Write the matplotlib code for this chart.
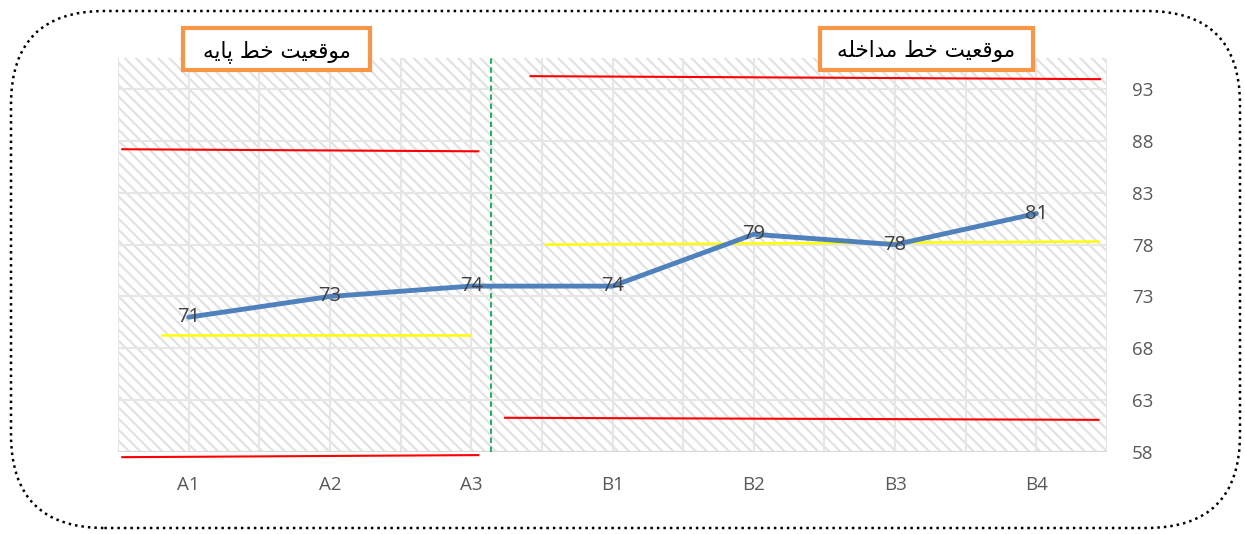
import matplotlib
matplotlib.use("Agg")
import matplotlib.pyplot as plt
from matplotlib.patches import Rectangle, FancyBboxPatch
import numpy as np

# ---------------- data ----------------
categories = ["A1", "A2", "A3", "B1", "B2", "B3", "B4"]
values = [71, 73, 74, 74, 79, 78, 81]
yticks = [58, 63, 68, 73, 78, 83, 88, 93]
title_left = "موقعيت خط پايه"
title_right = "موقعيت خط مداخله"
# reference lines (x in category units, y in value units)
red_left_upper_x = [-0.47, 2.05]
red_left_upper_y = [87.2, 87.0]
red_left_lower_x = [-0.47, 2.05]
red_left_lower_y = [57.5, 57.7]
red_right_upper_x = [2.42, 6.45]
red_right_upper_y = [94.25, 93.96]
red_right_lower_x = [2.24, 6.44]
red_right_lower_y = [61.3, 61.1]
yellow_left_x = [-0.19, 1.99]
yellow_left_y = [69.25, 69.25]
yellow_right_x = [2.53, 6.44]
yellow_right_y = [78.0, 78.3]
phase_change_x = 2.14

# ---------------- simple Arabic shaper ----------------
FORMS = {  # iso, fin, ini, med
    'م': ('\uFEE1', '\uFEE2', '\uFEE3', '\uFEE4'),
    'و': ('\uFEED', '\uFEEE', None, None),
    'ق': ('\uFED5', '\uFED6', '\uFED7', '\uFED8'),
    'ع': ('\uFEC9', '\uFECA', '\uFECB', '\uFECC'),
    'ي': ('\uFEF1', '\uFEF2', '\uFEF3', '\uFEF4'),
    'ت': ('\uFE95', '\uFE96', '\uFE97', '\uFE98'),
    'خ': ('\uFEA5', '\uFEA6', '\uFEA7', '\uFEA8'),
    'ط': ('\uFEC1', '\uFEC2', '\uFEC3', '\uFEC4'),
    'پ': ('\uFB56', '\uFB57', '\uFB58', '\uFB59'),
    'ا': ('\uFE8D', '\uFE8E', None, None),
    'ه': ('\uFEE9', '\uFEEA', '\uFEEB', '\uFEEC'),
    'د': ('\uFEA9', '\uFEAA', None, None),
    'ل': ('\uFEDD', '\uFEDE', '\uFEDF', '\uFEE0'),
}


def shape(text):
    out = []
    n = len(text)
    for i, ch in enumerate(text):
        if ch not in FORMS:
            out.append(ch)
            continue
        f = FORMS[ch]
        prev = text[i - 1] if i > 0 else None
        nxt = text[i + 1] if i < n - 1 else None
        join_prev = prev in FORMS and FORMS[prev][2] is not None
        join_next = nxt in FORMS and f[2] is not None
        if join_prev and join_next:
            out.append(f[3])
        elif join_prev:
            out.append(f[1])
        elif join_next:
            out.append(f[2])
        else:
            out.append(f[0])
    return ''.join(reversed(out))


# ---------------- figure ----------------
W, H = 1245, 534
fig = plt.figure(figsize=(W / 100, H / 100), dpi=100)
plt.rcParams['hatch.linewidth'] = 1.6
plt.rcParams['hatch.color'] = '#e2e2e2'

L, R, T, B = 118, 1107, 58, 452
ax = fig.add_axes([L / W, 1 - B / H, (R - L) / W, (B - T) / H])
ax.set_xlim(-0.5, 6.5)
ax.set_ylim(58, 96)

# hatched plot area
ax.add_patch(Rectangle((0, 0), 1, 1, transform=ax.transAxes, facecolor='white',
                       hatch='\\\\\\', edgecolor='#e2e2e2', linewidth=0, zorder=0))

# gridlines
for xv in np.arange(-0.5, 6.51, 0.5):
    ax.axvline(xv, color='#e6e6e6', lw=1.5, zorder=1)
for yv in yticks:
    ax.axhline(yv, color='#e6e6e6', lw=1.5, zorder=1)

for s in ax.spines.values():
    s.set_visible(False)
ax.axhline(58, color='#d9d9d9', lw=1.5, zorder=1)

x = np.arange(len(categories))
ax.set_xticks(x)
ax.set_xticklabels(categories, fontsize=13.5, color='#595959', family='Open Sans')
ax.yaxis.tick_right()
ax.set_yticks(yticks)
ax.set_yticklabels([str(v) for v in yticks], fontsize=13.5, color='#595959', family='Open Sans')
ax.tick_params(axis='both', length=0)
ax.tick_params(axis='x', pad=17)
ax.tick_params(axis='y', pad=18)

# main series
ax.plot(x, values, color='#4f81bd', lw=3.5, zorder=4, solid_capstyle='round')
for xi, v in zip(x, values):
    ax.text(xi, v, str(v), ha='center', va='center', fontsize=14.5, color='#404040',
            family='Open Sans', zorder=5)

# reference lines
kw = dict(clip_on=False, zorder=3)
ax.plot(red_left_upper_x, red_left_upper_y, color='#ff0000', lw=1.5, **kw)
ax.plot(red_left_lower_x, red_left_lower_y, color='#ff0000', lw=1.5, **kw)
ax.plot(red_right_upper_x, red_right_upper_y, color='#ff0000', lw=1.5, **kw)
ax.plot(red_right_lower_x, red_right_lower_y, color='#ff0000', lw=1.5, **kw)
ax.plot(yellow_left_x, yellow_left_y, color='#ffff00', lw=1.8, **kw)
ax.plot(yellow_right_x, yellow_right_y, color='#ffff00', lw=1.8, **kw)
ax.axvline(phase_change_x, color='#00b050', lw=1.3, ls=(0, (3, 2)), zorder=3)

# title boxes
def title_box(x0, x1, y0, y1, text):
    fig.patches.append(Rectangle((x0 / W, 1 - y1 / H), (x1 - x0) / W, (y1 - y0) / H,
                                 transform=fig.transFigure, facecolor='white',
                                 edgecolor='#f79646', lw=3, zorder=10))
    fig.text((x0 + x1) / 2 / W, 1 - (y0 + y1) / 2 / H - 0.004, shape(text), ha='center',
             va='center', fontsize=15.5, color='black', family='DejaVu Sans', zorder=11)

title_box(183, 370, 28, 70, title_left)
title_box(820, 1033, 28, 70, title_right)

# outer dotted rounded frame
fig.patches.append(FancyBboxPatch((11 / W, 1 - 528 / H), (1240 - 11) / W, (528 - 11) / H,
                                  boxstyle="round,pad=0,rounding_size=0.075",
                                  transform=fig.transFigure, facecolor='none',
                                  edgecolor='black', lw=1.8, ls=(0, (1, 1.6)),
                                  mutation_aspect=W / H))

fig.savefig("out.png", dpi=100)
